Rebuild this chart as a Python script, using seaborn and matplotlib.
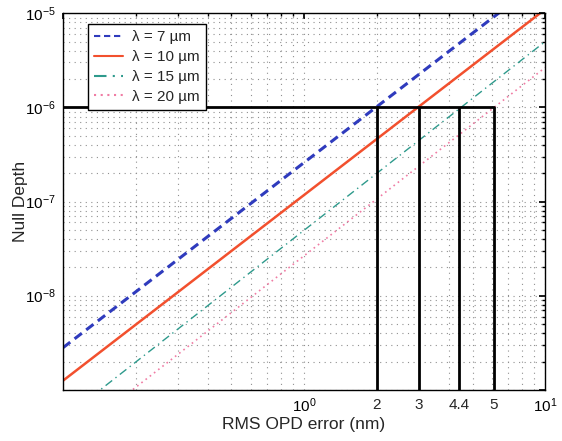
import matplotlib
matplotlib.use("Agg")
import matplotlib.pyplot as plt
import matplotlib.ticker as mticker
import numpy as np
import pandas as pd
import seaborn as sns

# RMS OPD error range (nm) and null depth at both ends for each wavelength
sigma_nm = [0.1, 10.0]
null_7um = [2.8e-9, 2.4e-5]
null_10um = [1.25e-9, 1.1e-5]
null_15um = [4.9e-10, 5.0e-6]
null_20um = [2.65e-10, 2.65e-6]
series_labels = ["λ = 7 µm", "λ = 10 µm", "λ = 15 µm", "λ = 20 µm"]

# Required null depth and the OPD error that meets it for each wavelength
null_target = 1e-6
cutoff_sigma = [2.0, 3.0, 4.4, 6.14]
cutoff_labels = ["2", "3", "4.4", "5"]

colors = ["#2f3bbd", "#f2502e", "#2e9a8c", "#f07ca4"]

sns.set_theme(style="white")
plt.rcParams["font.family"] = ["Liberation Sans", "DejaVu Sans"]
plt.rcParams["mathtext.fontset"] = "custom"
plt.rcParams["mathtext.rm"] = "Liberation Sans"
plt.rcParams["mathtext.default"] = "regular"

frames = []
for lab, vals in zip(series_labels, [null_7um, null_10um, null_15um, null_20um]):
    frames.append(pd.DataFrame({"sigma": sigma_nm, "null": vals, "wavelength": lab}))
df = pd.concat(frames, ignore_index=True)

fig = plt.figure(figsize=(5.62, 4.41), dpi=100)
ax = fig.add_axes([0.112, 0.116, 0.858, 0.854])

palette = dict(zip(series_labels, colors))
dashes = dict(zip(series_labels, [(3.0, 1.8), "", (6, 3, 1, 3), (1, 2.2)]))
sns.lineplot(data=df, x="sigma", y="null", hue="wavelength", style="wavelength",
             palette=palette, dashes=dashes, ax=ax, legend=True)
widths = [2.2, 1.8, 1.0, 1.2]
for line, w in zip(ax.get_lines(), widths):
    line.set_linewidth(w)

ax.set_xscale("log")
ax.set_yscale("log")
ax.set_xlim(0.1, 10)
ax.set_ylim(1e-9, 1e-5)

# Threshold line and the OPD limits for each wavelength
ax.plot([sigma_nm[0], cutoff_sigma[-1]], [null_target, null_target], color="black", lw=2.0, zorder=4)
ax.vlines(cutoff_sigma, 1e-9, null_target, colors="black", lw=2.0, zorder=4)

# Grid on every decade subdivision
ax.xaxis.set_major_locator(mticker.FixedLocator([0.1, 1, 10]))
ax.xaxis.set_major_formatter(mticker.FixedFormatter(["", "$10^{0}$", "$10^{1}$"]))
ax.xaxis.set_minor_locator(mticker.LogLocator(base=10, subs=np.arange(2, 10)))
ax.xaxis.set_minor_formatter(mticker.NullFormatter())
ax.yaxis.set_major_locator(mticker.FixedLocator([1e-9, 1e-8, 1e-7, 1e-6, 1e-5]))
ax.yaxis.set_major_formatter(mticker.FixedFormatter(["", "$10^{-8}$", "$10^{-7}$", "$10^{-6}$", "$10^{-5}$"]))
ax.yaxis.set_minor_locator(mticker.LogLocator(base=10, subs=np.arange(2, 10)))
ax.yaxis.set_minor_formatter(mticker.NullFormatter())
ax.grid(True, which="both", color="#909090", linestyle=(0, (1, 4)), linewidth=0.8)
ax.tick_params(which="both", direction="in", top=True, right=True, colors="black",
               labelsize=11, pad=5)
ax.tick_params(which="major", length=4)
ax.tick_params(which="minor", length=2.5)

for s, lab in zip(cutoff_sigma, cutoff_labels):
    ax.text(s, -0.022, lab, transform=ax.get_xaxis_transform(), ha="center", va="top",
            fontsize=11)

for sp in ax.spines.values():
    sp.set_color("black")
    sp.set_linewidth(1.0)

ax.set_xlabel("RMS OPD error (nm)", fontsize=12.5, labelpad=1)
ax.set_ylabel("Null Depth", fontsize=12.5)
ax.yaxis.set_label_coords(-0.072, 0.5)

handles, labels = ax.get_legend_handles_labels()
leg = ax.legend(handles, labels, loc="upper left", bbox_to_anchor=(0.052, 0.971),
                frameon=True, fancybox=False, edgecolor="black", framealpha=1,
                fontsize=11, handlelength=1.9, handletextpad=0.6, borderpad=0.4,
                labelspacing=0.38, borderaxespad=0)
leg.get_frame().set_linewidth(1.0)
leg.set_zorder(5)

fig.savefig("out.png", dpi=100)
